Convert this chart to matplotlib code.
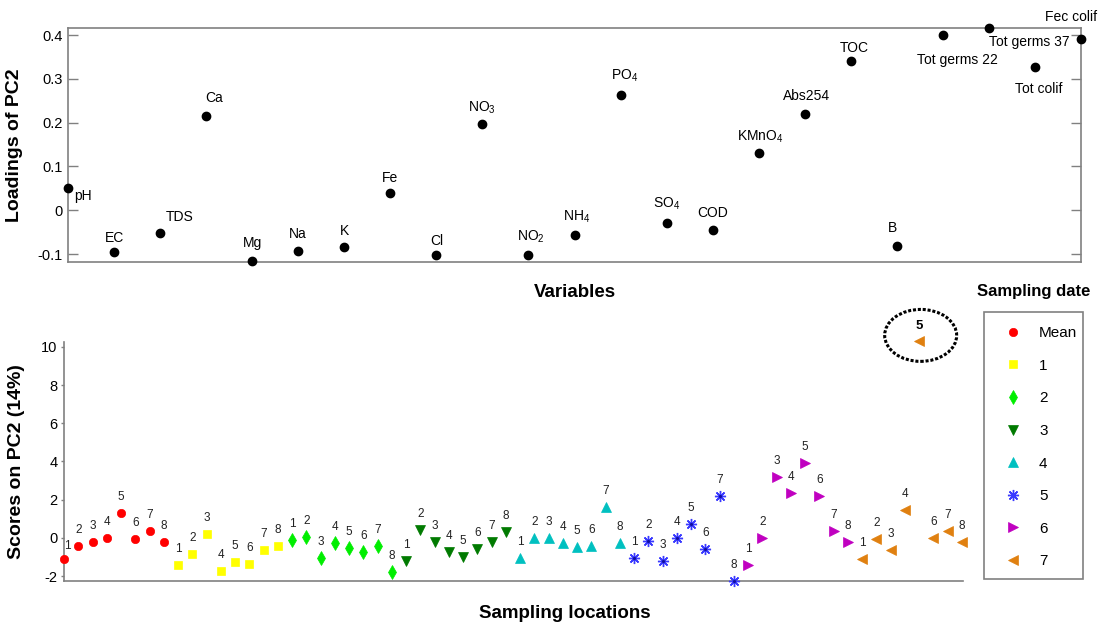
import numpy as np
import matplotlib.pyplot as plt
from matplotlib.patches import Ellipse, Rectangle

plt.rcParams.update({
    'font.family': ['Liberation Sans', 'DejaVu Sans'],
    'mathtext.fontset': 'custom',
    'mathtext.rm': 'Liberation Sans',
    'mathtext.it': 'Liberation Sans:italic',
    'mathtext.bf': 'Liberation Sans:bold',
    'axes.unicode_minus': False,
})

# --- loadings of PC2 ---
variables = ['pH', 'EC', 'TDS', 'Ca', 'Mg', 'Na', 'K', 'Fe', 'Cl', r'NO$_3$', r'NO$_2$',
             r'NH$_4$', r'PO$_4$', r'SO$_4$', 'COD', r'KMnO$_4$', 'Abs254', 'TOC', 'B',
             'Tot germs 22', 'Tot germs 37', 'Tot colif', 'Fec colif']
loadings = [0.050, -0.095, -0.051, 0.215, -0.116, -0.093, -0.084, 0.040, -0.101, 0.198,
            -0.101, -0.057, 0.262, -0.029, -0.046, 0.130, 0.220, 0.341, -0.082,
            0.399, 0.416, 0.328, 0.392]
# label offsets (pixels) and alignment for each variable name
label_off = [(6, -8, 'left'), (0, 14, 'center'), (20, 16, 'center'), (8, 18, 'center'),
             (0, 18, 'center'), (0, 17, 'center'), (0, 16, 'center'), (0, 15, 'center'),
             (0, 14, 'center'), (0, 16, 'center'), (2, 18, 'center'), (2, 18, 'center'),
             (4, 20, 'center'), (0, 19, 'center'), (0, 17, 'center'), (2, 17, 'center'),
             (2, 18, 'center'), (3, 13, 'center'), (-4, 18, 'center'), (15, -25, 'center'),
             (40, -14, 'center'), (4, -22, 'center'), (-10, 22, 'center')]

# --- scores on PC2, 8 locations per sampling date ---
groups = ['Mean', '1', '2', '3', '4', '5', '6', '7']
scores = {
    'Mean': [-1.13, -0.41, -0.22, -0.03, 1.30, -0.05, 0.34, -0.24],
    '1': [-1.42, -0.87, 0.18, -1.72, -1.25, -1.35, -0.64, -0.41],
    '2': [-0.12, 0.02, -1.06, -0.26, -0.55, -0.73, -0.43, -1.79],
    '3': [-1.21, 0.39, -0.22, -0.76, -0.99, -0.60, -0.20, 0.29],
    '4': [-1.07, -0.03, -0.03, -0.26, -0.48, -0.43, 1.60, -0.29],
    '5': [-1.04, -0.15, -1.21, -0.03, 0.72, -0.59, 2.20, -2.26],
    '6': [-1.41, -0.03, 3.18, 2.35, 3.90, 2.20, 0.36, -0.24],
    '7': [-1.13, -0.05, -0.66, 1.47, 10.30, -0.03, 0.34, -0.24],
}
locations = ['1', '2', '3', '4', '5', '6', '7', '8']
outlier = ('7', 4)  # date 7, location 5

styles = {
    'Mean': dict(marker='o', color='#ff0000', ms=6),
    '1': dict(marker='s', color='#ffff00', ms=5.2),
    '2': dict(marker='d', color='#00ee00', ms=7),
    '3': dict(marker='v', color='#007a00', ms=6.5),
    '4': dict(marker='^', color='#00c0c0', ms=6.5),
    '5': dict(marker=(8, 2, 0), color='#3a3aff', ms=8),
    '6': dict(marker='>', color='#c000c0', ms=6.5),
    '7': dict(marker='<', color='#e08010', ms=6.5),
}

fig = plt.figure(figsize=(11.06, 6.28), dpi=100)
spine_col = '#808080'

# ================= top panel =================
ax1 = fig.add_axes([68 / 1106, 1 - 262 / 628, 1013 / 1106, 234 / 628])
xv = np.arange(1, len(variables) + 1)
ax1.plot(xv, loadings, 'o', color='black', ms=6, clip_on=False, zorder=3)
for x, y, name, (dx, dy, ha) in zip(xv, loadings, variables, label_off):
    ax1.annotate(name, (x, y), xytext=(dx, dy), textcoords='offset pixels',
                 ha=ha, va='center', fontsize=10, annotation_clip=False)
ax1.set_xlim(1, 23)
ax1.set_ylim(-0.118, 0.416)
ax1.set_yticks([-0.1, 0, 0.1, 0.2, 0.3, 0.4])
ax1.set_yticklabels(['-0.1', '0', '0.1', '0.2', '0.3', '0.4'])
ax1.set_xticks([])
ax1.tick_params(axis='y', direction='in', length=7, width=1, color=spine_col,
                right=True, labelsize=10.5, pad=4)
for s in ax1.spines.values():
    s.set_color(spine_col)
    s.set_linewidth(1.2)
ax1.set_ylabel('Loadings of PC2', fontsize=14, fontweight='bold')
ax1.yaxis.set_label_coords(-0.044, 0.5)
ax1.set_xlabel('Variables', fontsize=13.5, fontweight='bold')
ax1.xaxis.set_label_coords(0.5, -0.132)
ax1.xaxis.label.set_verticalalignment('center')

# ================= bottom panel =================
ax2 = fig.add_axes([64 / 1106, 1 - 581 / 628, 899 / 1106, 239.3 / 628])
handles = []
for gi, g in enumerate(groups):
    xs = np.arange(1, 9) + gi * 8
    ys = np.array(scores[g])
    st = styles[g]
    mew = 1.0 if g == '5' else 0.5
    h, = ax2.plot(xs, ys, linestyle='none', marker=st['marker'], ms=st['ms'],
                  color=st['color'], mec=st['color'], mew=mew, clip_on=False,
                  label=g, zorder=3)
    handles.append(h)
    if g == '5':
        ax2.plot(xs, ys, linestyle='none', marker='.', ms=2.5, color='#1010a0',
                 clip_on=False, zorder=4)
    for li, (x, y) in enumerate(zip(xs, ys)):
        if (g, li) == outlier:
            ax2.annotate(locations[li], (x, y), xytext=(0, 15), textcoords='offset pixels',
                         ha='center', va='center', fontsize=9.5, fontweight='bold',
                         annotation_clip=False)
            ell = Ellipse((x + 0.1, y + 0.3), width=5.05, height=2.72, fill=False,
                          edgecolor='black', linestyle=(0, (1, 0.6)), linewidth=2.2,
                          clip_on=False)
            ax2.add_patch(ell)
        else:
            dx = 3 if x == 1 else 0
            dy = 13 if x == 1 else 16
            ax2.annotate(locations[li], (x, y), xytext=(dx, dy), textcoords='offset pixels',
                         ha='center', va='center', fontsize=8.5, color='#222222',
                         annotation_clip=False)

ax2.set_xlim(1, 64.07)
ax2.set_ylim(-2.26, 10.27)
ax2.set_yticks([-2, 0, 2, 4, 6, 8, 10])
ax2.set_xticks([])
ax2.tick_params(axis='y', direction='out', length=2.5, width=1, color=spine_col,
                labelsize=10.5, pad=2)
for side in ['top', 'right']:
    ax2.spines[side].set_visible(False)
for side in ['left', 'bottom']:
    ax2.spines[side].set_color(spine_col)
    ax2.spines[side].set_linewidth(1.2)
ax2.set_ylabel('Scores on PC2 (14%)', fontsize=14, fontweight='bold')
ax2.yaxis.set_label_coords(-0.043, 0.5)
ax2.set_xlabel('Sampling locations', fontsize=13.5, fontweight='bold')
ax2.xaxis.set_label_coords(0.557, -0.134)
ax2.xaxis.label.set_verticalalignment('center')

# legend: frame drawn separately so entries can sit where the reference has them
frame = Rectangle((984 / 1106, 1 - 579 / 628), 99 / 1106, 267.3 / 628,
                  transform=fig.transFigure, fill=False, edgecolor=spine_col, linewidth=1.2)
fig.patches.append(frame)
leg = fig.legend(handles=handles, labels=groups, loc='upper left',
                 bbox_to_anchor=(1000.8 / 1106, 1 - 326 / 628), bbox_transform=fig.transFigure,
                 frameon=False, fontsize=11, labelspacing=1.22, handletextpad=0.9,
                 borderpad=0, handlelength=1.6, borderaxespad=0)
fig.text(1034 / 1106, 1 - 291 / 628, 'Sampling date', ha='center', va='center',
         fontsize=12, fontweight='bold')

fig.savefig('out.png', dpi=100)
